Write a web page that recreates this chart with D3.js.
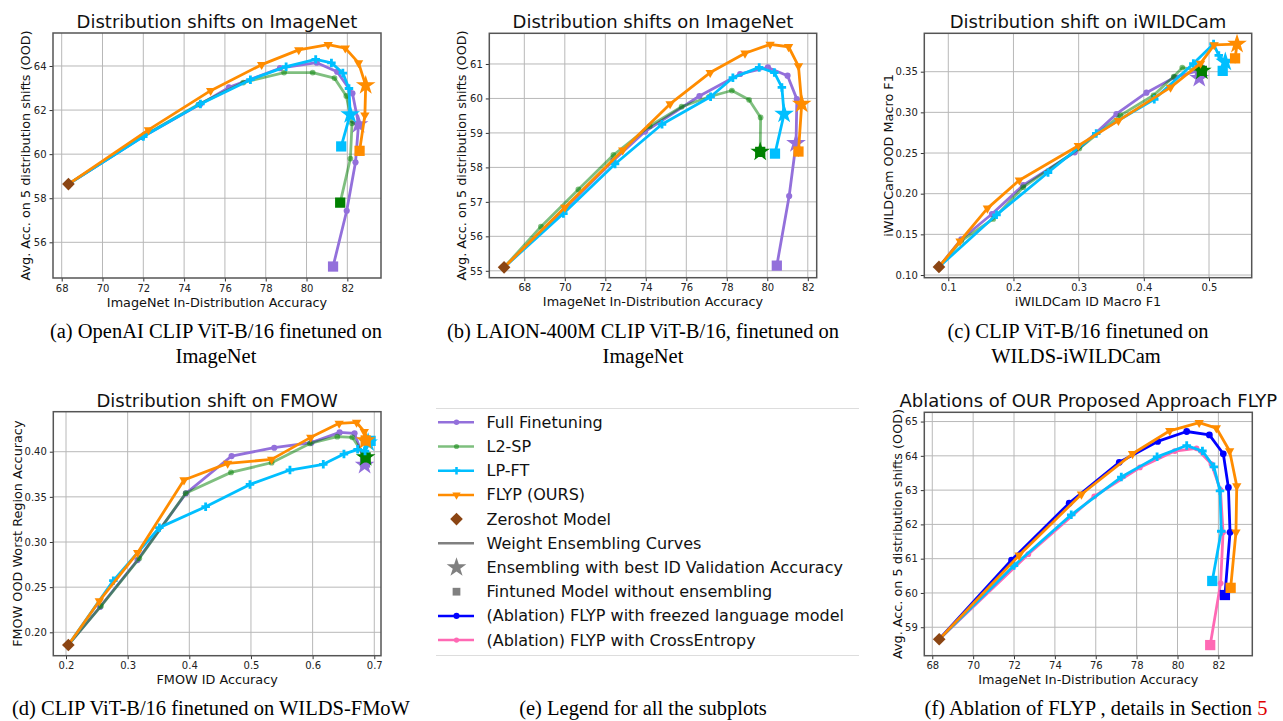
<!DOCTYPE html>
<html>
<head>
<meta charset="utf-8">
<script src="https://cdn.jsdelivr.net/npm/d3@7"></script>
<style>
  body { margin: 0; background: #fff; }
  text { font-family: 'DejaVu Sans', sans-serif; }
  text.cap { font-family: 'Liberation Serif', 'Times New Roman', serif; }
</style>
</head>
<body>
<script>
// ---- data ----
// (a) OpenAI CLIP, ImageNet
const A_ZS = [68.33, 58.64];
const A_FULL = [[68.33,58.64],[71.95,60.78],[74.8,62.27],[76.2,63.03],[78.7,63.9],[80.5,64.15],[81.5,63.74],[82.25,62.76],[82.55,61.37],[82.4,59.63],[81.97,57.43],[81.3,54.9]];
const A_L2SP = [[68.33,58.64],[71.95,60.8],[74.7,62.25],[76.9,63.25],[78.9,63.7],[80.3,63.7],[81.37,63.45],[81.95,62.64],[82.23,61.4],[82.15,59.8],[81.65,57.8]];
const A_LPFT = [[68.33,58.64],[72.0,60.8],[74.8,62.28],[77.25,63.38],[79.0,63.97],[80.45,64.3],[81.22,64.14],[81.78,63.68],[82.08,62.98],[82.14,61.8],[81.7,60.35]];
const A_FLYP = [[68.33,58.64],[72.25,61.1],[75.3,62.88],[77.8,64.06],[79.62,64.73],[81.06,64.97],[81.9,64.81],[82.55,64.14],[82.9,63.12],[82.86,61.77],[82.6,60.15]];
const A_BEST = [[82.55,61.35], null, [82.14,61.8], [82.9,63.12]];

// (b) LAION-400M CLIP, ImageNet
const B_ZS = [67.0, 55.1];
const B_FULL = [[67.0,55.1],[70.0,56.8],[72.4,58.2],[73.96,59.04],[76.65,60.07],[78.66,60.71],[80.03,60.9],[81.0,60.66],[81.46,59.98],[81.42,58.7],[81.08,57.17],[80.47,55.15]];
const B_L2SP = [[67.0,55.1],[68.82,56.28],[70.67,57.36],[72.4,58.36],[74.2,59.2],[75.77,59.76],[77.14,60.05],[78.25,60.23],[79.1,59.96],[79.67,59.45],[79.65,58.45]];
const B_LPFT = [[67.0,55.1],[69.93,56.66],[72.48,58.1],[74.8,59.25],[77.2,60.05],[78.3,60.6],[79.6,60.9],[80.35,60.75],[80.72,60.32],[80.83,59.55],[80.38,58.4]];
const B_FLYP = [[67.0,55.1],[70.0,56.84],[72.86,58.5],[75.2,59.84],[77.18,60.75],[78.9,61.31],[80.14,61.57],[81.05,61.5],[81.54,60.94],[81.7,59.84],[81.54,58.46]];
const B_BEST = [[81.42,58.7], [79.65,58.45], [80.83,59.55], [81.7,59.84]];

// (c) iWILDCam
const C_ZS = [0.0857, 0.110];
const C_FULL = [[0.0857,0.110],[0.12,0.144],[0.167,0.175],[0.215,0.2105],[0.294,0.2508],[0.358,0.298],[0.404,0.3242],[0.447,0.343],[0.486,0.352]];
const C_L2SP = [[0.0857,0.110],[0.12,0.142],[0.169,0.169],[0.215,0.208],[0.301,0.2556],[0.364,0.2963],[0.415,0.321],[0.446,0.344],[0.459,0.355],[0.489,0.351]];
const C_LPFT = [[0.0857,0.110],[0.174,0.174],[0.253,0.226],[0.327,0.274],[0.416,0.316],[0.476,0.36],[0.507,0.384],[0.515,0.37],[0.525,0.362],[0.521,0.351]];
const C_FLYP = [[0.0857,0.110],[0.118,0.1416],[0.16,0.182],[0.209,0.2166],[0.2995,0.259],[0.361,0.2898],[0.441,0.3307],[0.487,0.3602],[0.508,0.383],[0.543,0.384],[0.540,0.3664]];
const C_BEST = [[0.485,0.342], [0.489,0.351], [0.525,0.362], [0.543,0.384]];

// (d) FMOW
const D_ZS = [0.2038, 0.186];
const D_FULL = [[0.2038,0.186],[0.255,0.228],[0.316,0.28],[0.3946,0.3539],[0.4686,0.3952],[0.5378,0.4044],[0.598,0.41],[0.6438,0.4214],[0.668,0.4203],[0.685,0.388]];
const D_L2SP = [[0.2038,0.186],[0.2568,0.229],[0.3189,0.2819],[0.3941,0.354],[0.4676,0.3771],[0.5335,0.3878],[0.5957,0.4092],[0.64,0.4166],[0.6643,0.4159],[0.686,0.3937]];
const D_LPFT = [[0.2038,0.186],[0.2768,0.2572],[0.3514,0.3159],[0.4265,0.3391],[0.4984,0.3638],[0.5632,0.3797],[0.6173,0.386],[0.6508,0.3974],[0.673,0.4026],[0.685,0.4007],[0.694,0.412]];
const D_FLYP = [[0.2038,0.186],[0.254,0.2347],[0.3162,0.2882],[0.3914,0.3686],[0.4622,0.3871],[0.5335,0.3915],[0.597,0.4159],[0.643,0.4314],[0.6713,0.4325],[0.6838,0.4221],[0.686,0.4125]];
const D_BEST = [[0.6843,0.3852], [0.686,0.3937], [0.69,0.41], [0.686,0.4125]];

// (f) ablations (LP-FT and FLYP curves are the ones of panel a)
const F_ZS = [68.34, 58.65];
const F_FREEZE = [[68.34,58.65],[71.88,60.96],[74.7,62.62],[77.15,63.81],[79.03,64.42],[80.45,64.71],[81.56,64.61],[82.24,64.06],[82.49,63.08],[82.57,61.77],[82.32,59.94]];
const F_CE = [[68.34,58.65],[72.7,61.13],[75.93,62.82],[78.16,63.66],[79.87,64.14],[80.93,64.22],[81.66,63.76],[82.1,63.01],[82.23,61.77],[82.11,60.28],[81.6,58.48]];

const LEGEND_LABELS = ['Full Finetuning', 'L2-SP', 'LP-FT', 'FLYP (OURS)', 'Zeroshot Model',
  'Weight Ensembling Curves', 'Ensembling with best ID Validation Accuracy',
  'Fintuned Model without ensembling', '(Ablation) FLYP with freezed language model',
  '(Ablation) FLYP with CrossEntropy'];

// ---- styles ----
const STY = {
  full:   { color: '#9370DB', symbol: d3.symbolCircle, size: 30, opacity: 1 },
  l2sp:   { color: '#008000', symbol: d3.symbolCircle, size: 26, opacity: 0.5 },
  lpft:   { color: '#00BFFF', symbol: d3.symbolCross, size: 40, opacity: 1 },
  flyp:   { color: '#FF8C00', symbol: d3.symbolTriangle, size: 38, opacity: 1, rot: 180 },
  freeze: { color: '#0000FF', symbol: d3.symbolCircle, size: 36, opacity: 1 },
  ce:     { color: '#FF69B4', symbol: d3.symbolCircle, size: 26, opacity: 1 }
};
const ZS_COLOR = '#8B4513';

const W = 1283, H = 721;
const svg = d3.select('body').append('svg').attr('width', W).attr('height', H);
svg.append('rect').attr('width', W).attr('height', H).attr('fill', '#fff');

function drawPanel(cfg) {
  const x = d3.scaleLinear().domain(cfg.xDomain).range([cfg.left, cfg.right]);
  const y = d3.scaleLinear().domain(cfg.yDomain).range([cfg.bottom, cfg.top]);
  const g = svg.append('g');

  // grid
  g.append('g').selectAll('line').data(cfg.xTicks).join('line')
    .attr('x1', d => x(d)).attr('x2', d => x(d)).attr('y1', cfg.top).attr('y2', cfg.bottom)
    .attr('stroke', '#b8b8b8').attr('stroke-width', 1);
  g.append('g').selectAll('line').data(cfg.yTicks).join('line')
    .attr('y1', d => y(d)).attr('y2', d => y(d)).attr('x1', cfg.left).attr('x2', cfg.right)
    .attr('stroke', '#b8b8b8').attr('stroke-width', 1);

  // axes
  const xAxis = d3.axisBottom(x).tickValues(cfg.xTicks).tickFormat(cfg.xFmt).tickSize(3.5).tickPadding(3);
  const yAxis = d3.axisLeft(y).tickValues(cfg.yTicks).tickFormat(cfg.yFmt).tickSize(3.5).tickPadding(3);
  const gx = g.append('g').attr('transform', `translate(0,${cfg.bottom})`).call(xAxis);
  const gy = g.append('g').attr('transform', `translate(${cfg.left},0)`).call(yAxis);
  [gx, gy].forEach(a => {
    a.select('.domain').remove();
    a.selectAll('line').attr('stroke', '#333');
    a.selectAll('text').attr('font-size', 10).attr('fill', '#222')
      .attr('font-family', "'DejaVu Sans', sans-serif");
  });

  // curves
  const line = d3.line().x(d => x(d[0])).y(d => y(d[1]));
  cfg.series.forEach(s => {
    const st = s.style;
    const sg = g.append('g');
    sg.append('path').datum(s.pts).attr('d', line)
      .attr('fill', 'none').attr('stroke', st.color).attr('stroke-width', 2.8)
      .attr('stroke-linejoin', 'round').attr('opacity', st.opacity);
    sg.selectAll('path.mk').data(s.pts.slice(1)).join('path').attr('class', 'mk')
      .attr('d', d3.symbol(st.symbol, st.size))
      .attr('transform', d => `translate(${x(d[0])},${y(d[1])})` + (st.rot ? ` rotate(${st.rot})` : ''))
      .attr('fill', st.color).attr('opacity', st.opacity);
    const last = s.pts[s.pts.length - 1];
    sg.append('path').attr('d', d3.symbol(d3.symbolSquare, 105))
      .attr('transform', `translate(${x(last[0])},${y(last[1])})`)
      .attr('fill', st.color);
    if (s.best) {
      sg.append('path').attr('d', d3.symbol(d3.symbolStar, 120))
        .attr('transform', `translate(${x(s.best[0])},${y(s.best[1])})`)
        .attr('fill', st.color);
    }
  });

  // zeroshot
  g.append('path').attr('d', d3.symbol(d3.symbolSquare, 80))
    .attr('transform', `translate(${x(cfg.zs[0])},${y(cfg.zs[1])}) rotate(45)`)
    .attr('fill', ZS_COLOR);

  // frame
  g.append('rect').attr('x', cfg.left).attr('y', cfg.top)
    .attr('width', cfg.right - cfg.left).attr('height', cfg.bottom - cfg.top)
    .attr('fill', 'none').attr('stroke', '#555').attr('stroke-width', 1.5);

  // title and labels
  const cx = (cfg.left + cfg.right) / 2, cy = (cfg.top + cfg.bottom) / 2;
  g.append('text').attr('x', cx).attr('y', cfg.top - 5).attr('text-anchor', 'middle')
    .attr('font-size', 18).attr('fill', '#111').text(cfg.title);
  g.append('text').attr('x', cx).attr('y', cfg.bottom + 28.5).attr('text-anchor', 'middle')
    .attr('font-size', 12.8).attr('fill', '#111').text(cfg.xLabel);
  g.append('text').attr('transform', `translate(${cfg.left - cfg.yLabelOff},${cy}) rotate(-90)`)
    .attr('text-anchor', 'middle').attr('dominant-baseline', 'central')
    .attr('font-size', 12.8).attr('fill', '#111').text(cfg.yLabel);
}

const f0 = d3.format('d'), f1 = d3.format('.1f'), f2 = d3.format('.2f');
const imnX = 'ImageNet In-Distribution Accuracy', imnY = 'Avg. Acc. on 5 distribution shifts (OOD)';

drawPanel({
  left: 53, right: 381, top: 33, bottom: 278,
  xDomain: [67.574, 83.65], yDomain: [54.38, 65.497],
  xTicks: d3.range(68, 83, 2), yTicks: d3.range(56, 65, 2), xFmt: f0, yFmt: f0,
  title: 'Distribution shifts on ImageNet', xLabel: imnX, yLabel: imnY, yLabelOff: 28,
  zs: A_ZS,
  series: [
    { pts: A_FULL, style: STY.full, best: A_BEST[0] },
    { pts: A_L2SP, style: STY.l2sp, best: A_BEST[1] },
    { pts: A_LPFT, style: STY.lpft, best: A_BEST[2] },
    { pts: A_FLYP, style: STY.flyp, best: A_BEST[3] }
  ]
});

drawPanel({
  left: 489.3, right: 816.7, top: 33.3, bottom: 277.7,
  xDomain: [66.27, 82.44], yDomain: [54.8, 61.89],
  xTicks: d3.range(68, 83, 2), yTicks: d3.range(55, 62, 1), xFmt: f0, yFmt: f0,
  title: 'Distribution shifts on ImageNet', xLabel: imnX, yLabel: imnY, yLabelOff: 28,
  zs: B_ZS,
  series: [
    { pts: B_FULL, style: STY.full, best: B_BEST[0] },
    { pts: B_L2SP, style: STY.l2sp, best: B_BEST[1] },
    { pts: B_LPFT, style: STY.lpft, best: B_BEST[2] },
    { pts: B_FLYP, style: STY.flyp, best: B_BEST[3] }
  ]
});

drawPanel({
  left: 924.3, right: 1251.7, top: 33.3, bottom: 277.7,
  xDomain: [0.0632, 0.5655], yDomain: [0.0967, 0.3972],
  xTicks: [0.1, 0.2, 0.3, 0.4, 0.5], yTicks: [0.10, 0.15, 0.20, 0.25, 0.30, 0.35], xFmt: f1, yFmt: f2,
  title: 'Distribution shift on iWILDCam', xLabel: 'iWILDCam ID Macro F1', yLabel: 'iWILDCam OOD Macro F1', yLabelOff: 36,
  zs: C_ZS,
  series: [
    { pts: C_FULL, style: STY.full, best: C_BEST[0] },
    { pts: C_L2SP, style: STY.l2sp, best: C_BEST[1] },
    { pts: C_LPFT, style: STY.lpft, best: C_BEST[2] },
    { pts: C_FLYP, style: STY.flyp, best: C_BEST[3] }
  ]
});

drawPanel({
  left: 53.3, right: 381, top: 411.7, bottom: 655.7,
  xDomain: [0.1794, 0.7109], yDomain: [0.1741, 0.4443],
  xTicks: [0.2, 0.3, 0.4, 0.5, 0.6, 0.7], yTicks: [0.20, 0.25, 0.30, 0.35, 0.40], xFmt: f1, yFmt: f2,
  title: 'Distribution shift on FMOW', xLabel: 'FMOW ID Accuracy', yLabel: 'FMOW OOD Worst Region Accuracy', yLabelOff: 36,
  zs: D_ZS,
  series: [
    { pts: D_FULL, style: STY.full, best: D_BEST[0] },
    { pts: D_L2SP, style: STY.l2sp, best: D_BEST[1] },
    { pts: D_LPFT, style: STY.lpft, best: D_BEST[2] },
    { pts: D_FLYP, style: STY.flyp, best: D_BEST[3] }
  ]
});

drawPanel({
  left: 924.3, right: 1252.3, top: 412.3, bottom: 655.7,
  xDomain: [67.61, 83.66], yDomain: [58.17, 65.27],
  xTicks: d3.range(68, 83, 2), yTicks: d3.range(59, 66, 1), xFmt: f0, yFmt: f0,
  title: 'Ablations of OUR Proposed Approach FLYP', xLabel: imnX, yLabel: imnY, yLabelOff: 27,
  zs: F_ZS,
  series: [
    { pts: F_CE, style: STY.ce },
    { pts: A_LPFT, style: STY.lpft },
    { pts: F_FREEZE, style: STY.freeze },
    { pts: A_FLYP, style: STY.flyp }
  ]
});

// ---- legend (e) ----
const lg = svg.append('g');
lg.append('line').attr('x1', 436).attr('x2', 859).attr('y1', 408.5).attr('y2', 408.5).attr('stroke', '#ddd');
lg.append('line').attr('x1', 436).attr('x2', 859).attr('y1', 655.5).attr('y2', 655.5).attr('stroke', '#ddd');
const legendKeys = [
  { style: STY.full, kind: 'line' }, { style: STY.l2sp, kind: 'line' }, { style: STY.lpft, kind: 'line' },
  { style: STY.flyp, kind: 'line' }, { kind: 'zs' }, { kind: 'gray' }, { kind: 'star' }, { kind: 'square' },
  { style: STY.freeze, kind: 'line' }, { style: STY.ce, kind: 'line' }
];
legendKeys.forEach((k, i) => {
  const cy = 422.3 + i * 24.2;
  const mx = 456.5;
  if (k.kind === 'line') {
    lg.append('line').attr('x1', 438).attr('x2', 474).attr('y1', cy).attr('y2', cy)
      .attr('stroke', k.style.color).attr('stroke-width', 2.5).attr('opacity', k.style.opacity);
    lg.append('path').attr('d', d3.symbol(k.style.symbol, k.style.size * 0.8))
      .attr('transform', `translate(${mx},${cy})` + (k.style.rot ? ` rotate(${k.style.rot})` : ''))
      .attr('fill', k.style.color).attr('opacity', k.style.opacity);
  } else if (k.kind === 'zs') {
    lg.append('path').attr('d', d3.symbol(d3.symbolSquare, 80))
      .attr('transform', `translate(${mx},${cy}) rotate(45)`).attr('fill', ZS_COLOR);
  } else if (k.kind === 'gray') {
    lg.append('line').attr('x1', 438).attr('x2', 474).attr('y1', cy).attr('y2', cy)
      .attr('stroke', '#808080').attr('stroke-width', 2.5);
  } else if (k.kind === 'star') {
    lg.append('path').attr('d', d3.symbol(d3.symbolStar, 120))
      .attr('transform', `translate(${mx},${cy})`).attr('fill', '#808080');
  } else {
    lg.append('path').attr('d', d3.symbol(d3.symbolSquare, 60))
      .attr('transform', `translate(${mx},${cy})`).attr('fill', '#808080');
  }
  lg.append('text').attr('x', 486.5).attr('y', cy).attr('dominant-baseline', 'central')
    .attr('font-size', 16).attr('fill', '#111').text(LEGEND_LABELS[i]);
});

// ---- captions ----
const caps = [
  { x: 216, y: 338, t: '(a) OpenAI CLIP ViT-B/16 finetuned on' },
  { x: 216, y: 363, t: 'ImageNet' },
  { x: 643, y: 338, t: '(b) LAION-400M CLIP ViT-B/16, finetuned on' },
  { x: 643, y: 363, t: 'ImageNet' },
  { x: 1078, y: 338, t: '(c) CLIP ViT-B/16 finetuned on' },
  { x: 1076, y: 363, t: 'WILDS-iWILDCam' },
  { x: 211, y: 715, t: '(d) CLIP ViT-B/16 finetuned on WILDS-FMoW' },
  { x: 643, y: 715, t: '(e) Legend for all the subplots' }
];
svg.append('g').selectAll('text').data(caps).join('text').attr('class', 'cap')
  .attr('x', d => d.x).attr('y', d => d.y).attr('text-anchor', 'middle')
  .attr('font-size', 20.5).attr('fill', '#000')
  .text(d => d.t);
const capF = svg.append('text').attr('class', 'cap').attr('x', 1096).attr('y', 715).attr('text-anchor', 'middle')
  .attr('font-size', 20.5).attr('fill', '#000');
capF.append('tspan').text('(f) Ablation of FLYP , details in Section ');
capF.append('tspan').attr('fill', '#e00000').text('5');
</script>
</body>
</html>
